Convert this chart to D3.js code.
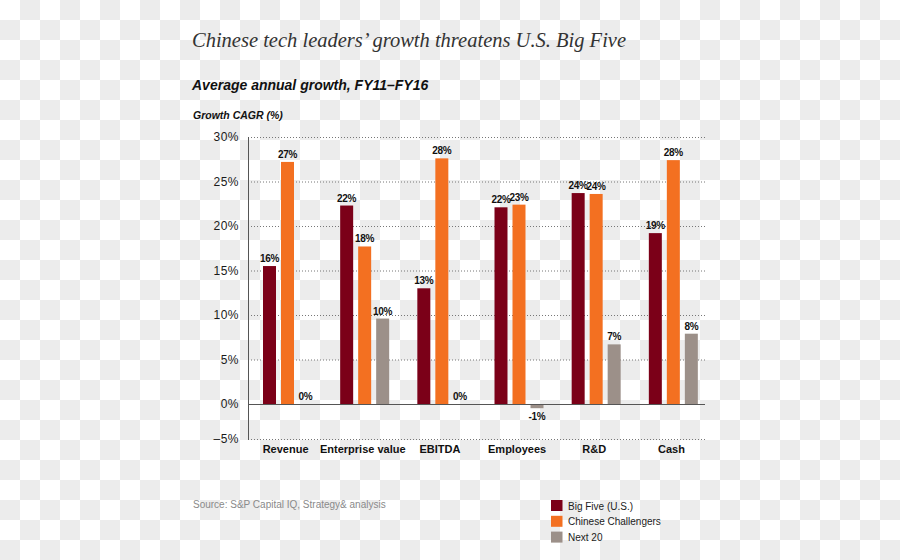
<!DOCTYPE html>
<html>
<head>
<meta charset="utf-8">
<script src="https://cdn.jsdelivr.net/npm/d3@7"></script>
<style>
  html, body { margin: 0; padding: 0; background: #fff; }
  svg { display: block; }
</style>
</head>
<body>
<svg id="chart" width="900" height="560"></svg>
<script>
// ---- data ----
const categories = ["Revenue", "Enterprise value", "EBITDA", "Employees", "R&D", "Cash"];
const seriesNames = ["Big Five (U.S.)", "Chinese Challengers", "Next 20"];
const bigFive     = [15.5, 22.3, 13.0, 22.1, 23.7, 19.2];
const chinese     = [27.2, 17.7, 27.6, 22.4, 23.6, 27.4];
const next20      = [0, 9.6, 0, -0.6, 6.7, 7.9];
const bigFiveLabels = ["16%", "22%", "13%", "22%", "24%", "19%"];
const chineseLabels = ["27%", "18%", "28%", "23%", "24%", "28%"];
const next20Labels  = ["0%", "10%", "0%", "-1%", "7%", "8%"];
const yTicks = [-5, 0, 5, 10, 15, 20, 25, 30];
const yTickLabels = ["–5%", "0%", "5%", "10%", "15%", "20%", "25%", "30%"];
const colors = ["#7b0018", "#f37021", "#9c9089"];

const seriesValues = [bigFive, chinese, next20];
const seriesLabels = [bigFiveLabels, chineseLabels, next20Labels];

const svg = d3.select("#chart");

// checkerboard backdrop
const defs = svg.append("defs");
const pat = defs.append("pattern").attr("id", "checker")
  .attr("width", 40).attr("height", 40).attr("patternUnits", "userSpaceOnUse");
pat.append("rect").attr("width", 40).attr("height", 40).attr("fill", "#ffffff");
pat.append("rect").attr("x", 20).attr("y", 0).attr("width", 20).attr("height", 20).attr("fill", "#ececec");
pat.append("rect").attr("x", 0).attr("y", 20).attr("width", 20).attr("height", 20).attr("fill", "#ececec");
svg.append("rect").attr("width", 900).attr("height", 560).attr("fill", "url(#checker)");

// titles
svg.append("text").attr("x", 192).attr("y", 47)
  .attr("font-family", "'Liberation Serif', serif").attr("font-style", "italic")
  .attr("font-size", 20.5).attr("fill", "#333").text("Chinese tech leaders’ growth threatens U.S. Big Five");
svg.append("text").attr("x", 192).attr("y", 90)
  .attr("font-family", "'Liberation Sans', Arial, sans-serif").attr("font-style", "italic").attr("font-weight", "bold")
  .attr("font-size", 14).attr("fill", "#111").text("Average annual growth, FY11–FY16");
svg.append("text").attr("x", 193).attr("y", 119)
  .attr("font-family", "'Liberation Sans', Arial, sans-serif").attr("font-style", "italic").attr("font-weight", "bold")
  .attr("font-size", 10.5).attr("fill", "#111").text("Growth CAGR (%)");

// scales
const xLeft = 248, xRight = 711, gridRight = 705;
const y = d3.scaleLinear().domain([-5, 0, 30]).range([439, 404, 137]);
const x0 = d3.scaleBand().domain(categories).range([xLeft, xRight]).paddingInner(0).paddingOuter(0);
const x1 = d3.scaleBand().domain(seriesNames).range([15, 64]).paddingInner(0.278).paddingOuter(0);

// gridlines
const g = svg.append("g");
g.selectAll("line.grid").data(yTicks.filter(t => t !== 0)).enter().append("line")
  .attr("x1", xLeft).attr("x2", gridRight)
  .attr("y1", d => y(d) + 0.5).attr("y2", d => y(d) + 0.5)
  .attr("stroke", "#777").attr("stroke-width", 1).attr("stroke-dasharray", "1,2");

// y tick labels
g.selectAll("text.tick").data(yTicks).enter().append("text")
  .attr("x", 239).attr("y", d => y(d)).attr("dy", "0.35em")
  .attr("text-anchor", "end")
  .attr("font-family", "'Liberation Sans', Arial, sans-serif").attr("font-size", 12)
  .attr("letter-spacing", 0.5)
  .attr("fill", "#1a1a1a").text((d, i) => yTickLabels[i]);

// bars
const data = [];
categories.forEach((c, ci) => {
  seriesNames.forEach((s, si) => {
    data.push({ cat: c, ser: s, si: si, v: seriesValues[si][ci], label: seriesLabels[si][ci] });
  });
});
const bars = svg.append("g");
bars.selectAll("rect").data(data).enter().append("rect")
  .attr("x", d => x0(d.cat) + x1(d.ser))
  .attr("y", d => y(Math.max(0, d.v)))
  .attr("width", x1.bandwidth())
  .attr("height", d => Math.abs(y(d.v) - y(0)))
  .attr("fill", d => colors[d.si]);

bars.selectAll("text").data(data).enter().append("text")
  .attr("x", d => x0(d.cat) + x1(d.ser) + x1.bandwidth() / 2)
  .attr("y", d => d.v < 0 ? y(d.v) + 12 : y(d.v) - 4)
  .attr("text-anchor", "middle")
  .attr("font-family", "'Liberation Sans', Arial, sans-serif").attr("font-weight", "bold")
  .attr("font-size", 10).attr("letter-spacing", -0.3).attr("fill", "#111")
  .text(d => d.label);

// axes lines
svg.append("line").attr("x1", xLeft + 0.5).attr("x2", xLeft + 0.5).attr("y1", y(30)).attr("y2", y(-5) + 1)
  .attr("stroke", "#555").attr("stroke-width", 1);
svg.append("line").attr("x1", xLeft).attr("x2", gridRight).attr("y1", y(0) + 0.5).attr("y2", y(0) + 0.5)
  .attr("stroke", "#555").attr("stroke-width", 1.2);

// category labels
svg.append("g").selectAll("text").data(categories).enter().append("text")
  .attr("x", d => x0(d) + x0.bandwidth() / 2 - 1)
  .attr("y", 453)
  .attr("text-anchor", "middle")
  .attr("font-family", "'Liberation Sans', Arial, sans-serif").attr("font-weight", "bold")
  .attr("font-size", 11).attr("fill", "#111").text(d => d);

// source
svg.append("text").attr("x", 193).attr("y", 508)
  .attr("font-family", "'Liberation Sans', Arial, sans-serif").attr("font-size", 10)
  .attr("fill", "#8a8a8a").text("Source: S&P Capital IQ, Strategy& analysis");

// legend
const leg = svg.append("g").attr("transform", "translate(551,500)");
seriesNames.forEach((s, i) => {
  leg.append("rect").attr("x", 0).attr("y", i * 15.8).attr("width", 11.5).attr("height", 11)
    .attr("fill", colors[i]);
  leg.append("text").attr("x", 17).attr("y", i * 15.8 + 9.5)
    .attr("font-family", "'Liberation Sans', Arial, sans-serif").attr("font-size", 10)
    .attr("fill", "#222").text(s);
});
</script>
</body>
</html>
